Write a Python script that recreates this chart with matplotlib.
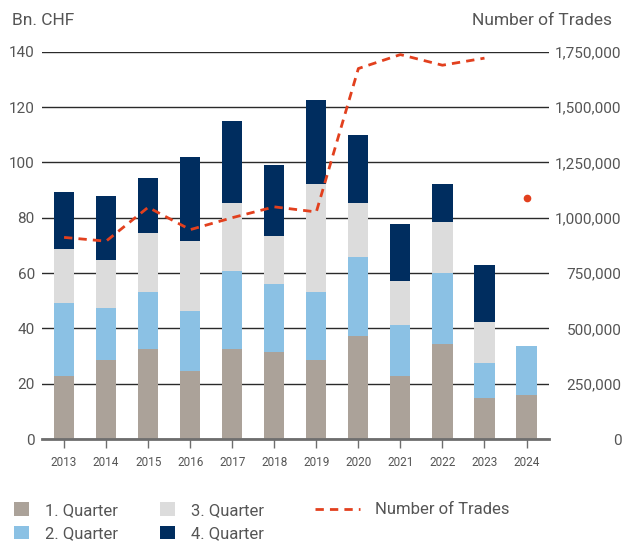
import numpy as np
import matplotlib.pyplot as plt
from matplotlib.patches import Patch
from matplotlib.lines import Line2D
from matplotlib.ticker import FuncFormatter

# ---- data ----
years = [2013, 2014, 2015, 2016, 2017, 2018, 2019, 2020, 2021, 2022, 2023, 2024]
q1 = [22.7, 28.5, 32.4, 24.5, 32.4, 31.5, 28.5, 37.2, 22.7, 34.4, 14.7, 15.8]
q2 = [26.4, 18.8, 20.7, 21.7, 28.2, 24.5, 24.6, 28.5, 18.4, 25.6, 12.7, 17.7]
q3 = [19.5, 17.3, 21.3, 25.3, 24.6, 17.3, 39.0, 19.5, 15.9, 18.4, 14.8, 0.0]
q4 = [20.6, 23.4, 19.9, 30.3, 29.6, 25.7, 30.3, 24.6, 20.6, 13.7, 20.6, 0.0]
trades = [911000, 894000, 1047000, 946000, 1000000, 1049000, 1026000,
          1674000, 1737000, 1689000, 1721000]
trades_2024 = 1089000

quarter_labels = ["1. Quarter", "2. Quarter", "3. Quarter", "4. Quarter"]
colors = ["#aba299", "#8bc1e4", "#dcdcdc", "#002d5f"]
line_color = "#e2401e"
text_color = "#555555"

plt.rcParams['font.family'] = ['Roboto', 'DejaVu Sans']

fig = plt.figure(figsize=(6.33, 5.41), dpi=100)
ax = fig.add_axes([0.066, 0.1885, 0.801, 0.7159])

x = np.array(years)
bottom = np.zeros(len(years))
for vals, c in zip([q1, q2, q3, q4], colors):
    ax.bar(x, vals, width=0.48, bottom=bottom, color=c, zorder=2)
    bottom += np.array(vals)

ax.set_xlim(2012.47, 2024.53)
ax.set_ylim(0, 140)
ax.set_yticks(range(0, 141, 20))
ax.set_xticks(years)
ax.grid(axis='y', color='#2a2a2a', linewidth=1.0, zorder=0)
ax.set_axisbelow(True)
for s in ['top', 'left', 'right']:
    ax.spines[s].set_visible(False)
ax.spines['bottom'].set_color('#6e6e6e')
ax.spines['bottom'].set_linewidth(2.0)
ax.spines['bottom'].set_zorder(3)
ax.tick_params(axis='y', length=0, pad=5, labelsize=11, labelcolor=text_color)
ax.tick_params(axis='x', length=6.5, width=1, color='#6e6e6e', pad=5.5,
               labelsize=8.5, labelcolor=text_color)

ax2 = ax.twinx()
ax2.set_ylim(0, 1750000)
ax2.set_yticks(range(0, 1750001, 250000))
ax2.yaxis.set_major_formatter(FuncFormatter(lambda v, p: f"{int(v):,}"))
for s in ax2.spines.values():
    s.set_visible(False)
ax2.tick_params(axis='y', length=0, pad=52.5, labelsize=11, labelcolor=text_color)
for lbl in ax2.get_yticklabels():
    lbl.set_horizontalalignment('right')

ax2.plot(years[:len(trades)], trades, color=line_color, linewidth=2,
         linestyle=(0, (3, 2.2)), zorder=4)
ax2.plot([years[-1]], [trades_2024], 'o', color=line_color, markersize=4.5,
         zorder=4)

fig.text(0.019, 0.962, "Bn. CHF", fontsize=12.5, color=text_color,
         ha='left', va='center')
fig.text(0.967, 0.962, "Number of Trades", fontsize=12.5, color=text_color,
         ha='right', va='center')

handles = [Patch(facecolor=c, edgecolor='none') for c in colors]
fig.legend(handles, quarter_labels, ncol=2, loc='upper left',
           bbox_to_anchor=(0.004, 0.093), frameon=False, fontsize=12,
           handlelength=0.9, handleheight=0.9, handletextpad=0.95,
           columnspacing=2.5, labelspacing=0.45, labelcolor=text_color,
           borderpad=0.2)
fig.legend([Line2D([0], [0], color=line_color, linewidth=2,
                   linestyle=(0, (3, 2.2)))], ["Number of Trades"],
           loc='upper left', bbox_to_anchor=(0.479, 0.093), frameon=False,
           fontsize=12, handlelength=2.7, handletextpad=0.9,
           labelcolor=text_color, borderpad=0.2)

fig.savefig("out.png", dpi=100)
